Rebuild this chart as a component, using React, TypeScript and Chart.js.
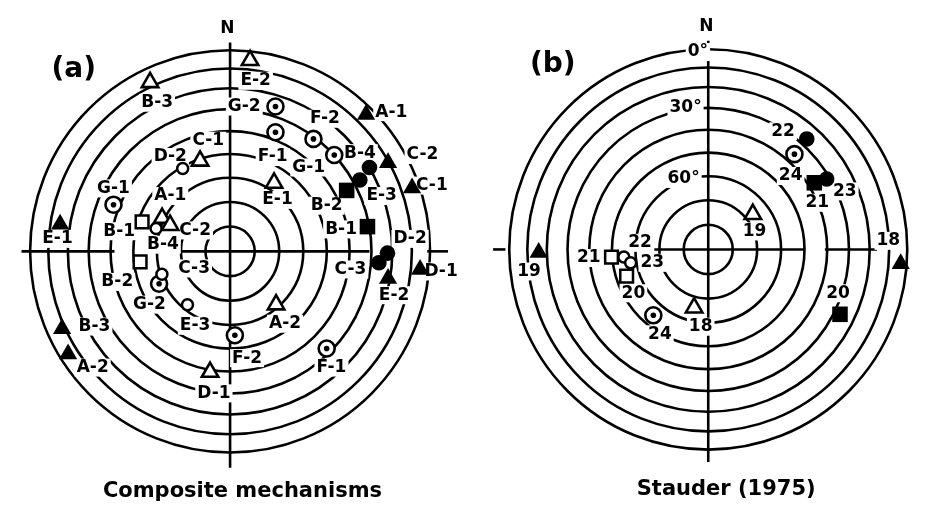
import React, { useEffect, useRef } from "react";
import { Chart, registerables } from "chart.js";

Chart.register(...registerables);

type P = { x: number; y: number };
type L = { text: string; x: number; y: number };

// ---------- shared grid: dip circles (degrees) on an equal-area net ----------
const dipCircles = [0, 10, 20, 30, 40, 50, 60, 70, 80];

// ---------- panel (a): composite mechanisms (normalized net coordinates) ----------
const aOpenTriangles: P[] = [
  { x: 0.1, y: 0.95 }, { x: -0.4, y: 0.84 }, { x: -0.15, y: 0.45 }, { x: 0.22, y: 0.34 },
  { x: -0.34, y: 0.165 }, { x: -0.3, y: 0.13 }, { x: 0.23, y: -0.265 }, { x: -0.1, y: -0.6 },
];
const aFilledTriangles: P[] = [
  { x: 0.68, y: 0.68 }, { x: 0.79, y: 0.44 }, { x: 0.91, y: 0.315 }, { x: -0.85, y: 0.135 },
  { x: 0.79, y: -0.135 }, { x: 0.95, y: -0.09 }, { x: -0.84, y: -0.385 }, { x: -0.81, y: -0.51 },
];
const aOpenSquares: P[] = [{ x: -0.44, y: 0.147 }, { x: -0.45, y: -0.052 }];
const aFilledSquares: P[] = [{ x: 0.583, y: 0.303 }, { x: 0.687, y: 0.123 }];
const aOpenCircles: P[] = [
  { x: -0.237, y: 0.412 }, { x: -0.37, y: 0.114 }, { x: -0.341, y: -0.114 }, { x: -0.213, y: -0.265 },
];
const aFilledCircles: P[] = [
  { x: 0.697, y: 0.417 }, { x: 0.649, y: 0.355 }, { x: 0.787, y: -0.009 }, { x: 0.744, y: -0.057 },
];
const aBullseyes: P[] = [
  { x: 0.227, y: 0.72 }, { x: 0.227, y: 0.592 }, { x: 0.417, y: 0.559 }, { x: 0.521, y: 0.479 },
  { x: -0.583, y: 0.232 }, { x: -0.355, y: -0.161 }, { x: 0.024, y: -0.417 }, { x: 0.483, y: -0.483 },
];
const aLabels: L[] = [
  { text: "E-2", x: 0.128, y: 0.848 }, { text: "B-3", x: -0.365, y: 0.739 },
  { text: "A-1", x: 0.806, y: 0.692 }, { text: "G-2", x: 0.071, y: 0.72 },
  { text: "F-1", x: 0.213, y: 0.469 }, { text: "F-2", x: 0.474, y: 0.659 },
  { text: "G-1", x: 0.393, y: 0.417 }, { text: "B-4", x: 0.649, y: 0.488 },
  { text: "C-2", x: 0.962, y: 0.479 }, { text: "E-3", x: 0.758, y: 0.275 },
  { text: "B-2", x: 0.483, y: 0.227 }, { text: "C-1", x: 1.009, y: 0.327 },
  { text: "B-1", x: 0.555, y: 0.109 }, { text: "C-1", x: -0.109, y: 0.55 },
  { text: "D-2", x: -0.299, y: 0.469 }, { text: "E-1", x: 0.237, y: 0.256 },
  { text: "G-1", x: -0.583, y: 0.313 }, { text: "E-1", x: -0.863, y: 0.062 },
  { text: "A-1", x: -0.299, y: 0.275 }, { text: "C-2", x: -0.175, y: 0.104 },
  { text: "B-1", x: -0.555, y: 0.1 }, { text: "B-4", x: -0.336, y: 0.033 },
  { text: "B-2", x: -0.564, y: -0.152 }, { text: "C-3", x: -0.18, y: -0.085 },
  { text: "G-2", x: -0.403, y: -0.265 }, { text: "E-3", x: -0.175, y: -0.37 },
  { text: "A-2", x: 0.275, y: -0.36 }, { text: "F-2", x: 0.085, y: -0.531 },
  { text: "F-1", x: 0.507, y: -0.578 }, { text: "B-3", x: -0.678, y: -0.374 },
  { text: "A-2", x: -0.687, y: -0.578 }, { text: "D-1", x: -0.081, y: -0.706 },
  { text: "D-2", x: 0.9, y: 0.062 }, { text: "C-3", x: 0.602, y: -0.09 },
  { text: "E-2", x: 0.82, y: -0.218 }, { text: "D-1", x: 1.055, y: -0.1 },
];
const aAxisH: [number, number][] = [[-1.043, -0.578], [-0.251, 0.697], [0.986, 1.09]];
const aAxisV: [number, number][] = [[-1.076, 1.038]];

// ---------- panel (b): Stauder (1975) ----------
const bOpenTriangles: P[] = [{ x: 0.224, y: 0.176 }, { x: -0.071, y: -0.291 }];
const bFilledTriangles: P[] = [{ x: 0.967, y: -0.072 }, { x: -0.852, y: -0.015 }];
const bOpenSquares: P[] = [{ x: -0.486, y: -0.038 }, { x: -0.41, y: -0.133 }];
const bFilledSquares: P[] = [{ x: 0.533, y: 0.333 }, { x: 0.662, y: -0.324 }];
const bOpenCircles: P[] = [{ x: -0.424, y: -0.038 }, { x: -0.39, y: -0.067 }];
const bFilledCircles: P[] = [{ x: 0.495, y: 0.552 }, { x: 0.595, y: 0.352 }];
const bBullseyes: P[] = [{ x: 0.433, y: 0.476 }, { x: -0.276, y: -0.329 }];
const bLabels: L[] = [
  { text: "22", x: 0.376, y: 0.59 }, { text: "24", x: 0.414, y: 0.367 },
  { text: "21", x: 0.548, y: 0.233 }, { text: "23", x: 0.686, y: 0.29 },
  { text: "19", x: 0.233, y: 0.09 }, { text: "18", x: 0.905, y: 0.043 },
  { text: "19", x: -0.9, y: -0.11 }, { text: "21", x: -0.6, y: -0.043 },
  { text: "22", x: -0.343, y: 0.033 }, { text: "23", x: -0.281, y: -0.067 },
  { text: "20", x: -0.376, y: -0.219 }, { text: "24", x: -0.243, y: -0.424 },
  { text: "18", x: -0.038, y: -0.386 }, { text: "20", x: 0.652, y: -0.219 },
  { text: "0°", x: -0.052, y: 0.986 }, { text: "30°", x: -0.114, y: 0.71 },
  { text: "60°", x: -0.124, y: 0.352 },
];
const bAxisH: [number, number][] = [[-1.081, -1.019], [-0.271, 0.481], [0.586, 0.848]];
const bAxisV: [number, number][] = [[-1.062, 1.043]];

type Panel = {
  left: number; cx: number; cy: number; r: number;
  openTri: P[]; fillTri: P[]; openSq: P[]; fillSq: P[]; openCirc: P[]; fillCirc: P[]; bull: P[];
  labels: L[]; axisH: [number, number][]; axisV: [number, number][];
  tag: string; tagPos: P; title: string; titlePos: P; nPos: P;
};

const panels: Panel[] = [
  {
    left: 0, cx: 230, cy: 251, r: 211,
    openTri: aOpenTriangles, fillTri: aFilledTriangles, openSq: aOpenSquares, fillSq: aFilledSquares,
    openCirc: aOpenCircles, fillCirc: aFilledCircles, bull: aBullseyes, labels: aLabels,
    axisH: aAxisH, axisV: aAxisV,
    tag: "(a)", tagPos: { x: -0.782, y: 0.905 }, title: "Composite mechanisms",
    titlePos: { x: 0.062, y: -1.194 }, nPos: { x: -0.014, y: 1.109 },
  },
  {
    left: 463, cx: 246, cy: 249, r: 210,
    openTri: bOpenTriangles, fillTri: bFilledTriangles, openSq: bOpenSquares, fillSq: bFilledSquares,
    openCirc: bOpenCircles, fillCirc: bFilledCircles, bull: bBullseyes, labels: bLabels,
    axisH: bAxisH, axisV: bAxisV,
    tag: "(b)", tagPos: { x: -0.781, y: 0.924 }, title: "Stauder (1975)",
    titlePos: { x: 0.09, y: -1.2 }, nPos: { x: -0.01, y: 1.114 },
  },
];

const W = 463;
const H = 517;
const FONT = "'DejaVu Sans', sans-serif";

const eqArea = (d: number) => Math.SQRT2 * Math.sin(((90 - d) / 2) * (Math.PI / 180));

function netPlugin(p: Panel) {
  return {
    id: "net",
    beforeDatasetsDraw(chart: any) {
      const { ctx } = chart;
      const xs = chart.scales.x;
      const ys = chart.scales.y;
      const X = (v: number) => xs.getPixelForValue(v);
      const Y = (v: number) => ys.getPixelForValue(v);
      const cx = X(0);
      const cy = Y(0);
      const ux = X(1) - cx;
      const uy = cy - Y(1);
      ctx.save();
      ctx.strokeStyle = "#000";
      ctx.lineWidth = 2.6;
      for (const d of dipCircles) {
        const r = eqArea(d);
        ctx.beginPath();
        ctx.ellipse(cx, cy, r * ux, r * uy, 0, 0, Math.PI * 2);
        ctx.stroke();
      }
      for (const [a, b] of p.axisH) {
        ctx.beginPath();
        ctx.moveTo(X(a), cy);
        ctx.lineTo(X(b), cy);
        ctx.stroke();
      }
      for (const [a, b] of p.axisV) {
        ctx.beginPath();
        ctx.moveTo(cx, Y(a));
        ctx.lineTo(cx, Y(b));
        ctx.stroke();
      }
      ctx.textAlign = "center";
      ctx.textBaseline = "middle";
      ctx.font = `bold 17px ${FONT}`;
      for (const l of p.labels) {
        const w = ctx.measureText(l.text).width;
        const px = X(l.x);
        const py = Y(l.y);
        ctx.fillStyle = "#fff";
        ctx.fillRect(px - w / 2 - 2, py - 9, w + 4, 18);
        ctx.fillStyle = "#000";
        ctx.fillText(l.text, px, py);
      }
      ctx.font = `bold 17px ${FONT}`;
      ctx.fillText("N", X(p.nPos.x), Y(p.nPos.y));
      ctx.font = `bold 28px ${FONT}`;
      ctx.fillText(p.tag, X(p.tagPos.x), Y(p.tagPos.y));
      ctx.font = `bold 21px ${FONT}`;
      ctx.fillText(p.title, X(p.titlePos.x), Y(p.titlePos.y));
      ctx.restore();
    },
  };
}

function pts(data: P[], style: string, radius: number, fill: string, bw: number) {
  return {
    data,
    pointStyle: style,
    pointRadius: radius,
    pointHoverRadius: radius,
    pointBackgroundColor: fill,
    pointBorderColor: "#000",
    pointBorderWidth: bw,
    showLine: false,
    clip: false,
  };
}

function NetChart({ p }: { p: Panel }) {
  const ref = useRef<HTMLCanvasElement | null>(null);
  useEffect(() => {
    if (!ref.current) return;
    const xmin = -p.cx / p.r;
    const xmax = (W - p.cx) / p.r;
    const ymax = p.cy / p.r;
    const ymin = (p.cy - H) / p.r;
    const chart = new Chart(ref.current, {
      type: "scatter",
      data: {
        datasets: [
          pts(p.bull, "circle", 2.8, "#000", 0),
          pts(p.openSq, "rect", 9, "#fff", 2.5),
          pts(p.fillSq, "rect", 11, "#000", 0),
          pts(p.openCirc, "circle", 5.5, "#fff", 2.5),
          pts(p.fillCirc, "circle", 7.8, "#000", 0),
          pts(p.bull, "circle", 8, "#fff", 2.6),
          pts(p.openTri, "triangle", 9.5, "#fff", 2.6),
          pts(p.fillTri, "triangle", 10.5, "#000", 0),
        ] as any,
      },
      options: {
        animation: false,
        responsive: false,
        events: [],
        layout: { padding: 0 },
        plugins: { legend: { display: false }, tooltip: { enabled: false }, title: { display: false } },
        scales: {
          x: { type: "linear", min: xmin, max: xmax, display: false },
          y: { type: "linear", min: ymin, max: ymax, display: false },
        },
      },
      plugins: [netPlugin(p)],
    });
    return () => chart.destroy();
  }, [p]);
  return (
    <canvas
      ref={ref}
      width={W}
      height={H}
      style={{ position: "absolute", left: p.left, top: 0, width: W, height: H, display: "block" }}
    />
  );
}

export default function App() {
  return (
    <div style={{ position: "fixed", left: 0, top: 0, width: 926, height: 517, background: "#fff", overflow: "hidden" }}>
      {panels.map((p, i) => (
        <NetChart key={i} p={p} />
      ))}
    </div>
  );
}
